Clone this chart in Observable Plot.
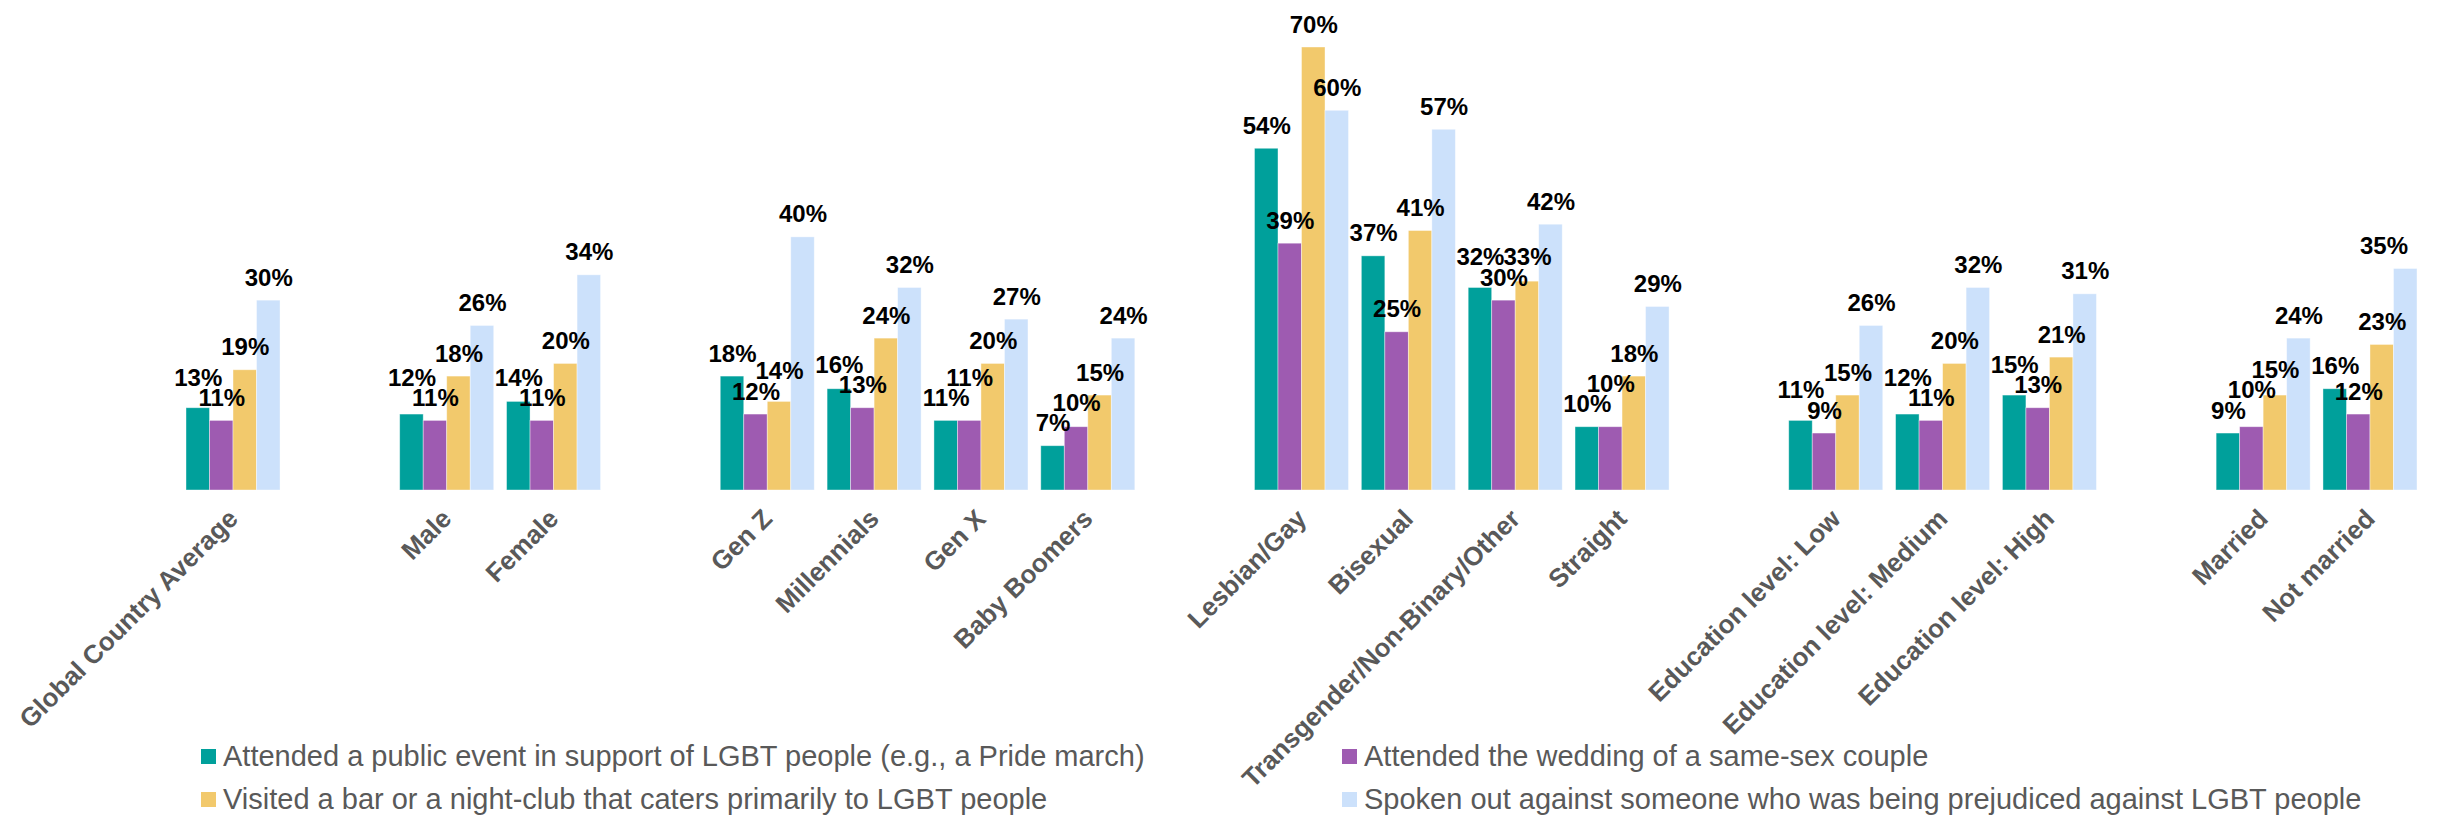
<!DOCTYPE html>
<html>
<head>
<meta charset="utf-8">
<script src="https://cdn.jsdelivr.net/npm/d3@7"></script>
<script src="https://cdn.jsdelivr.net/npm/@observablehq/plot@0.6"></script>
<style>
  html, body { margin: 0; padding: 0; background: #fff; }
  #wrap { position: relative; width: 2438px; height: 818px; font-family: Arial, "Liberation Sans", sans-serif; }
  .leg { position: absolute; display: flex; align-items: center; font-size: 29px; line-height: 29px; color: #595959; white-space: nowrap; }
  .sw { width: 15px; height: 15px; margin-right: 7px; flex: none; }
</style>
</head>
<body>
<div id="wrap"></div>
<script>
// Category groups (a blank slot separates consecutive groups)
const groups = [
  ["Global Country Average"],
  ["Male", "Female"],
  ["Gen Z", "Millennials", "Gen X", "Baby Boomers"],
  ["Lesbian/Gay", "Bisexual", "Transgender/Non-Binary/Other", "Straight"],
  ["Education level: Low", "Education level: Medium", "Education level: High"],
  ["Married", "Not married"]
];
const categories = groups.flat();

const seriesNames = [
  "Attended a public event in support of LGBT people (e.g., a Pride march)",
  "Attended the wedding of a same-sex couple",
  "Visited a bar or a night-club that caters primarily to LGBT people",
  "Spoken out against someone who was being prejudiced against LGBT people"
];
const seriesColors = ["#00A09B", "#9E5BB1", "#F2C96C", "#CCE1FB"];

const publicEvent = [13, 12, 14, 18, 16, 11, 7, 54, 37, 32, 10, 11, 12, 15, 9, 16];
const wedding     = [11, 11, 11, 12, 13, 11, 10, 39, 25, 30, 10, 9, 11, 13, 10, 12];
const barClub     = [19, 18, 20, 14, 24, 20, 15, 70, 41, 33, 18, 15, 20, 21, 15, 23];
const spokenOut   = [30, 26, 34, 40, 32, 27, 24, 60, 57, 42, 29, 26, 32, 31, 24, 35];

const seriesValues = [publicEvent, wedding, barClub, spokenOut];

// fx domain with blank gap slots between groups
const GAP = "\u200b";
const fxDomain = [];
groups.forEach((g, i) => {
  if (i > 0) fxDomain.push(GAP.repeat(i));
  fxDomain.push(...g);
});

const data = [];
categories.forEach((c, ci) => {
  seriesNames.forEach((s, si) => {
    data.push({category: c, series: s, value: seriesValues[si][ci]});
  });
});

const W = 2438;
const chart = Plot.plot({
  width: W,
  height: 818,
  marginTop: 47,
  marginBottom: 328,
  marginLeft: 186,
  marginRight: 21,
  style: {fontFamily: "Arial, 'Liberation Sans', sans-serif", background: "transparent"},
  fx: {domain: fxDomain, paddingInner: 0.12, paddingOuter: 0, round: false, label: null},
  x: {domain: seriesNames, padding: 0, round: false, axis: null},
  y: {domain: [0, 70], axis: null},
  color: {domain: seriesNames, range: seriesColors},
  marks: [
    Plot.barY(data, {
      fx: "category", x: "series", y: "value", fill: "series",
      stroke: "#ffffff", strokeWidth: 0.8, strokeOpacity: 0.5
    }),
    Plot.text(data, {
      fx: "category", x: "series", y: "value",
      text: d => d.value + "%",
      lineAnchor: "bottom", dy: -15,
      fontSize: 24, fontWeight: "bold", fill: "#000"
    }),
    Plot.axisFx({
      anchor: "bottom",
      tickSize: 0,
      tickPadding: 24,
      dx: 0,
      tickRotate: -45,
      fontSize: 26,
      fontWeight: "bold",
      fill: "#595959",
      label: null,
      tickFormat: d => d.startsWith(GAP) ? "" : d
    })
  ]
});

const wrap = document.getElementById("wrap");
wrap.appendChild(chart);

// Nudge value labels that collide with their neighbour (like the moved labels of the original)
function nudge(el, dx, dy) {
  el.setAttribute("transform", `translate(${dx},${dy}) ` + (el.getAttribute("transform") || ""));
}
function glyphBox(el) {
  const r = el.getBoundingClientRect();
  const fs = 24;
  return {left: r.left, right: r.right, capTop: r.bottom - 0.212 * fs - 0.716 * fs, base: r.bottom - 0.212 * fs};
}
chart.querySelectorAll('g[aria-label="text"]').forEach(g => {
  const texts = Array.from(g.querySelectorAll("text"));
  for (let i = 0; i < texts.length - 1; i++) {
    const a = glyphBox(texts[i]), b = glyphBox(texts[i + 1]);
    const hOverlap = a.right > b.left + 1;
    const vOverlap = a.capTop < b.base + 2 && b.capTop < a.base + 2;
    if (hOverlap && vOverlap) {
      if (a.capTop < b.capTop - 0.5) {
        nudge(texts[i], 0, (b.capTop - 3) - a.base);
      } else {
        nudge(texts[i + 1], 0, (a.capTop - 3) - b.base);
      }
    }
  }
  texts.forEach(t => {
    const r = t.getBoundingClientRect();
    if (r.right > W - 14) nudge(t, (W - 30) - r.right, 0);
  });
});

// Legend (two columns, two rows)
const legendPos = [
  {left: 201, top: 742},
  {left: 1342, top: 742},
  {left: 201, top: 785},
  {left: 1342, top: 785}
];
seriesNames.forEach((s, i) => {
  const item = document.createElement("div");
  item.className = "leg";
  item.style.left = legendPos[i].left + "px";
  item.style.top = legendPos[i].top + "px";
  const sw = document.createElement("span");
  sw.className = "sw";
  sw.style.background = seriesColors[i];
  const tx = document.createElement("span");
  tx.textContent = s;
  item.appendChild(sw);
  item.appendChild(tx);
  wrap.appendChild(item);
});
</script>
</body>
</html>
